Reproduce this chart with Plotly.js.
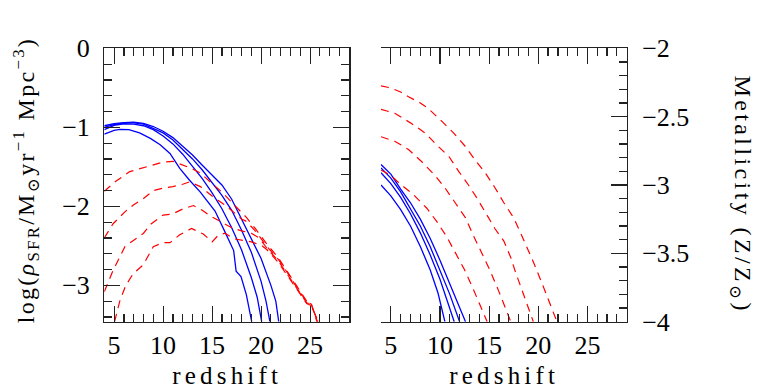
<!DOCTYPE html>
<html><head><meta charset="utf-8">
<script src="https://cdn.plot.ly/plotly-3.0.1.min.js"></script>
<style>body{margin:0;background:#fff}#chart{width:761px;height:390px}</style>
</head><body><div id="chart"></div>
<script>
// ---------- Left panel: star formation rate density (solid blue) ----------
const sfrAx = [4.0,5.0,6.0,7.0,8.0,9.0,10.0,11.0,12.0,13.0,14.0,15.0,16.0,17.0,18.0,19.0,20.0,21.0,21.5,21.8];
const sfrAy = [-0.98,-0.955,-0.94,-0.935,-0.95,-0.99,-1.05,-1.13,-1.24,-1.35,-1.48,-1.61,-1.73,-1.91,-2.16,-2.40,-2.66,-3.00,-3.20,-3.46];
const sfrBx = [4.0,5.0,6.0,7.0,8.0,9.0,10.0,11.0,12.0,13.0,14.0,15.0,16.0,17.0,18.0,19.0,20.0,20.5,20.9];
const sfrBy = [-1.00,-0.965,-0.945,-0.945,-0.96,-1.01,-1.07,-1.16,-1.28,-1.40,-1.54,-1.70,-1.86,-2.05,-2.30,-2.58,-2.95,-3.20,-3.46];
const sfrCx = [4.0,5.0,6.0,7.0,8.0,9.0,10.0,11.0,12.0,13.0,14.0,15.0,16.0,17.0,18.0,19.0,19.6,20.06];
const sfrCy = [-1.03,-0.975,-0.955,-0.96,-0.98,-1.03,-1.11,-1.21,-1.34,-1.49,-1.65,-1.83,-2.03,-2.27,-2.55,-2.90,-3.15,-3.46];
const sfrDx = [4.0,5.0,5.6,6.5,7.6,8.7,9.7,10.7,11.7,12.7,13.8,14.8,15.3,16.3,17.2,17.45,17.95,18.5,19.04];
const sfrDy = [-1.085,-1.04,-1.025,-1.03,-1.07,-1.14,-1.22,-1.33,-1.52,-1.67,-1.82,-1.98,-2.06,-2.32,-2.56,-2.82,-2.89,-3.12,-3.46];

// ---------- Left panel: dashed red ----------
const sfrR1x = [4.0,5.1,6.6,8.3,10.0,11.0,11.7,12.9,13.8,14.8,16.0,17.0,18.0,18.5,19.4,20.6,21.75,22.8,23.6,24.65,25.1,25.7];
const sfrR1y = [-1.81,-1.69,-1.56,-1.50,-1.44,-1.43,-1.46,-1.52,-1.58,-1.69,-1.82,-1.95,-2.07,-2.14,-2.28,-2.48,-2.65,-2.84,-3.00,-3.20,-3.225,-3.46];
const sfrR2x = [4.0,4.9,6.1,7.0,8.0,9.0,10.0,11.0,12.0,12.7,13.8,15.1,16.5,17.5,18.0,18.5,19.4,20.6,21.75,22.8,23.6,24.65,25.1,25.75];
const sfrR2y = [-2.40,-2.22,-2.07,-1.98,-1.90,-1.80,-1.77,-1.75,-1.72,-1.69,-1.75,-1.88,-2.00,-2.10,-2.16,-2.19,-2.31,-2.51,-2.67,-2.86,-3.02,-3.21,-3.235,-3.46];
const sfrR3x = [4.0,4.9,6.1,7.0,8.0,8.8,10.0,10.9,12.06,13.1,14.0,14.8,16.2,17.0,18.0,19.0,19.8,20.6,21.75,22.8,23.6,24.65,25.1,25.8];
const sfrR3y = [-3.08,-2.81,-2.51,-2.43,-2.34,-2.22,-2.11,-2.10,-2.03,-1.99,-2.05,-2.12,-2.22,-2.27,-2.31,-2.34,-2.40,-2.53,-2.69,-2.88,-3.03,-3.22,-3.245,-3.46];
const sfrR4x = [5.05,5.6,6.2,6.96,7.98,9.0,10.0,10.7,11.7,12.9,14.1,15.0,15.6,16.3,17.2,18.0,19.0,20.0,20.6,21.75,22.8,23.6,24.65,25.1,25.85];
const sfrR4y = [-3.46,-3.19,-3.0,-2.85,-2.74,-2.51,-2.46,-2.46,-2.36,-2.28,-2.35,-2.45,-2.37,-2.34,-2.41,-2.43,-2.45,-2.49,-2.55,-2.71,-2.89,-3.04,-3.23,-3.255,-3.46];

// ---------- Right panel: metallicity (solid blue) ----------
const metAx = [4.0,5.0,6.0,7.0,8.0,9.0,10.0,11.0,12.0,12.6];
const metAy = [-2.85,-2.92,-3.03,-3.13,-3.25,-3.39,-3.55,-3.72,-3.89,-4.0];
const metBx = [4.0,5.0,6.0,7.0,8.0,9.0,10.0,11.0,12.0];
const metBy = [-2.875,-2.95,-3.05,-3.17,-3.30,-3.45,-3.62,-3.80,-4.0];
const metCx = [4.0,5.0,6.0,7.0,8.0,9.0,10.0,10.8,11.45];
const metCy = [-2.91,-2.99,-3.09,-3.21,-3.35,-3.51,-3.69,-3.86,-4.0];
const metDx = [4.0,5.0,6.0,7.0,8.0,9.0,9.8,10.5];
const metDy = [-3.0,-3.08,-3.18,-3.30,-3.45,-3.62,-3.79,-4.0];

// ---------- Right panel: dashed red ----------
const metR1x = [4.0,5.0,6.0,6.8,8.0,8.8,10.2,11.4,12.6,13.6,14.6,15.6,16.5,17.5,18.2,18.9,19.6,20.5,21.2,21.9];
const metR1y = [-2.275,-2.29,-2.32,-2.355,-2.40,-2.44,-2.535,-2.62,-2.72,-2.82,-2.91,-3.02,-3.13,-3.24,-3.35,-3.46,-3.58,-3.74,-3.87,-4.0];
const metR2x = [4.0,5.4,7.1,8.5,9.7,10.9,11.9,12.9,13.8,14.6,15.6,16.5,17.2,17.7,18.5,19.5];
const metR2y = [-2.446,-2.475,-2.55,-2.62,-2.71,-2.79,-2.90,-3.0,-3.10,-3.195,-3.32,-3.41,-3.53,-3.64,-3.80,-4.0];
const metR3x = [4.0,5.4,6.8,8.15,9.5,10.5,11.55,12.6,13.4,14.1,15.0,16.0,17.2];
const metR3y = [-2.647,-2.68,-2.74,-2.83,-2.93,-3.02,-3.13,-3.24,-3.37,-3.475,-3.61,-3.78,-4.0];
const metR4x = [4.0,5.0,5.9,7.3,8.66,9.7,10.7,11.55,12.5,13.5,14.8];
const metR4y = [-2.89,-2.93,-2.99,-3.07,-3.17,-3.27,-3.38,-3.49,-3.62,-3.78,-4.0];

// ---------- Tick / label text ----------
const xTickVals = [5,10,15,20,25];
const sfrTickVals = [0,-1,-2,-3];
const metTickVals = [-2,-2.5,-3,-3.5,-4];
const xTitle = 'redshift';
const sfrTitle = 'log(<i>ρ</i><sub>SFR</sub>/M<sub>⊙</sub>yr<sup>−1</sup> Mpc<sup>−3</sup>)';
const metTitle = 'Metallicity (Z/Z<sub>⊙</sub>)';

// ---------- Styling ----------
const W = 761, H = 390;
const fx = p => p / W, fy = p => 1 - p / H;
const BLUE = '#0000ff', RED = '#ff0000', AX = '#222';
const FONT = '"Liberation Serif", "DejaVu Serif", serif';
const blue = (x, y, xa, ya) => ({x, y, xaxis: xa, yaxis: ya, mode: 'lines', line: {color: BLUE, width: 1.3}, hoverinfo: 'skip', showlegend: false});
const red = (x, y, xa, ya) => ({x, y, xaxis: xa, yaxis: ya, mode: 'lines', line: {color: RED, width: 1.2, dash: '8px,6px'}, hoverinfo: 'skip', showlegend: false});

const data = [
  blue(sfrAx, sfrAy, 'x', 'y'), blue(sfrBx, sfrBy, 'x', 'y'), blue(sfrCx, sfrCy, 'x', 'y'), blue(sfrDx, sfrDy, 'x', 'y'),
  red(sfrR1x, sfrR1y, 'x', 'y'), red(sfrR2x, sfrR2y, 'x', 'y'), red(sfrR3x, sfrR3y, 'x', 'y'), red(sfrR4x, sfrR4y, 'x', 'y'),
  blue(metAx, metAy, 'x2', 'y2'), blue(metBx, metBy, 'x2', 'y2'), blue(metCx, metCy, 'x2', 'y2'), blue(metDx, metDy, 'x2', 'y2'),
  red(metR1x, metR1y, 'x2', 'y2'), red(metR2x, metR2y, 'x2', 'y2'), red(metR3x, metR3y, 'x2', 'y2'), red(metR4x, metR4y, 'x2', 'y2')
];

const common = {
  showline: true, linecolor: AX, linewidth: 1.3, ticks: 'inside', ticklen: 16, tickwidth: 1.2, tickcolor: AX,
  showgrid: false, zeroline: false, fixedrange: true,
  tickfont: {family: FONT, size: 26, color: '#000'}
};
const yDom = [fy(321.7), fy(48.3)];
const xAxis = (dom, anchor) => Object.assign({}, common, {
  domain: dom, anchor: anchor, range: [4, 29], tickmode: 'array', tickvals: xTickVals,
  mirror: 'allticks', ticklabelstandoff: 0,
  minor: {tickmode: 'linear', tick0: 0, dtick: 1, ticks: 'inside', ticklen: 8, tickwidth: 1.2, tickcolor: AX}
});

const layout = {
  width: W, height: H, margin: {l: 0, r: 0, t: 0, b: 0},
  paper_bgcolor: '#fff', plot_bgcolor: '#fff', showlegend: false,
  font: {family: FONT},
  xaxis: xAxis([fx(104.3), fx(349.3)], 'y'),
  xaxis2: xAxis([fx(381), fx(626.7)], 'y2'),
  yaxis: Object.assign({}, common, {
    domain: yDom, anchor: 'x', range: [-3.46, 0], tickmode: 'array', tickvals: sfrTickVals,
    mirror: 'allticks', ticklabelstandoff: 8,
    minor: {tickmode: 'linear', tick0: 0, dtick: 0.2, ticks: 'inside', ticklen: 8, tickwidth: 1.2, tickcolor: AX}
  }),
  yaxis2: Object.assign({}, common, {
    domain: yDom, anchor: 'x2', side: 'right', range: [-4, -2], tickmode: 'array', tickvals: metTickVals,
    mirror: false, ticklabelstandoff: 9,
    minor: {tickmode: 'linear', tick0: 0, dtick: 0.1, ticks: 'inside', ticklen: 8, tickwidth: 1.2, tickcolor: AX}
  }),
  yaxis3: Object.assign({}, common, {
    overlaying: 'y2', anchor: 'x2', side: 'left', range: [0, 2], tickmode: 'linear', tick0: 0, dtick: 1,
    showticklabels: false, mirror: false,
    minor: {tickmode: 'linear', tick0: 0, dtick: 0.2, ticks: 'inside', ticklen: 8, tickwidth: 1.2, tickcolor: AX}
  }),
  annotations: [
    {text: sfrTitle, xref: 'paper', yref: 'paper', x: fx(26), y: fy(180), xanchor: 'center', yanchor: 'middle',
     textangle: -90, showarrow: false, font: {family: FONT, size: 24, color: '#000'}},
    {text: metTitle, xref: 'paper', yref: 'paper', x: fx(741), y: fy(194), xanchor: 'center', yanchor: 'middle',
     textangle: 90, showarrow: false, font: {family: FONT, size: 24, color: '#000'}},
    {text: xTitle, xref: 'paper', yref: 'paper', x: fx(226.8), y: fy(375), xanchor: 'center', yanchor: 'middle',
     showarrow: false, font: {family: FONT, size: 25, color: '#000'}},
    {text: xTitle, xref: 'paper', yref: 'paper', x: fx(503.9), y: fy(375), xanchor: 'center', yanchor: 'middle',
     showarrow: false, font: {family: FONT, size: 25, color: '#000'}}
  ]
};

Plotly.newPlot('chart', data, layout, {displayModeBar: false, staticPlot: true}).then(() => {
  const spacing = ['2.3px', '3.4px', '4.2px', '4.2px'];
  document.querySelectorAll('#chart .annotation-text').forEach((t, i) => {
    t.style.letterSpacing = spacing[i] || '0px';
  });
});
</script>
</body></html>
